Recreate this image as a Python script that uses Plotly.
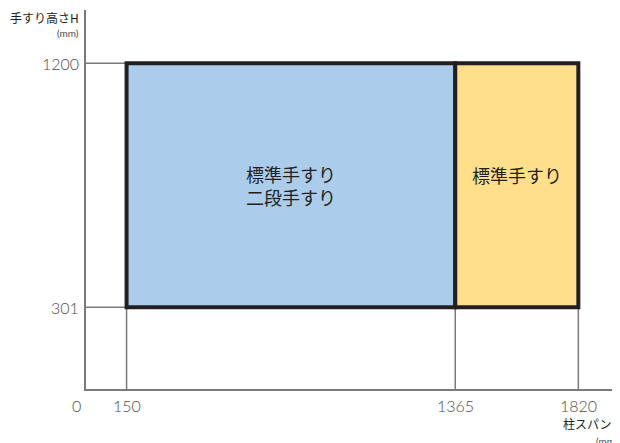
import plotly.graph_objects as go

# data
span_ticks = [0, 150, 1365, 1820]          # 柱スパンL (mm)
height_ticks = [301, 1200]                  # 手すり高さH (mm)
zone_edges = [150, 1365, 1820]
zone_labels = ["標準手すり<br>二段手すり", "標準手すり"]
zone_colors = ["#abcdeb", "#ffdf8a"]

FONT = "Noto Sans CJK JP, Noto Sans, sans-serif"
TICK_FONT = "Lato, Noto Sans, sans-serif"
TICK_COLOR = "#4d4d4d"
GRID_COLOR = "#7a7a7a"

fig = go.Figure()

h_lo, h_hi = height_ticks

# guide lines from the axes to the zone corners
for x in zone_edges:
    fig.add_shape(type="line", x0=x, x1=x, y0=0, y1=h_lo,
                  line=dict(color=GRID_COLOR, width=1.5), layer="below")
for y in height_ticks:
    fig.add_shape(type="line", x0=0, x1=zone_edges[0], y0=y, y1=y,
                  line=dict(color=GRID_COLOR, width=1.5), layer="below")

# zones
for i, (label, color) in enumerate(zip(zone_labels, zone_colors)):
    x0, x1 = zone_edges[i], zone_edges[i + 1]
    fig.add_shape(type="rect", x0=x0, x1=x1, y0=h_lo, y1=h_hi,
                  fillcolor=color, line=dict(color="#231f20", width=4))
    fig.add_annotation(x=(x0 + x1) / 2, y=(h_lo + h_hi) / 2, yshift=0 if i == 0 else 10,
                       text=label, showarrow=False,
                       font=dict(family=FONT, size=18, color="#231f20"))

# tick labels
for x in span_ticks:
    fig.add_annotation(x=x, y=0, yshift=-16, xshift=-10 if x == 0 else 0,
                       text=str(x), showarrow=False,
                       font=dict(family=TICK_FONT, size=16, color=TICK_COLOR, weight=300))
for y in height_ticks:
    fig.add_annotation(x=0, y=y, xshift=-5, xanchor="right",
                       text=str(y), showarrow=False,
                       font=dict(family=TICK_FONT, size=16, color=TICK_COLOR, weight=300))

# axis titles
fig.add_annotation(xref="paper", yref="paper", x=0, xshift=-5, y=0.9815, xanchor="right", yanchor="middle",
                   text="手すり高さH", showarrow=False,
                   font=dict(family=FONT, size=12, color="#231f20"))
fig.add_annotation(xref="paper", yref="paper", x=0, xshift=-5, y=0.938, xanchor="right", yanchor="middle",
                   text="(mm)", showarrow=False,
                   font=dict(family=TICK_FONT, size=10, color=TICK_COLOR))
fig.add_annotation(xref="paper", yref="paper", x=0.889, y=-0.092, xanchor="left", yanchor="middle",
                   text="柱スパンL", showarrow=False,
                   font=dict(family=FONT, size=12, color="#231f20"))
fig.add_annotation(xref="paper", yref="paper", x=0.951, y=-0.137, xanchor="left", yanchor="middle",
                   text="(mm)", showarrow=False,
                   font=dict(family=TICK_FONT, size=10, color=TICK_COLOR))

# page body adds an 8px offset, so margins are shifted accordingly
fig.update_layout(
    width=620, height=443,
    margin=dict(l=78, r=8, t=2, b=62, autoexpand=False),
    paper_bgcolor="white", plot_bgcolor="white",
    showlegend=False,
    xaxis=dict(range=[0, 1974], showgrid=False, zeroline=False, showticklabels=False,
               showline=True, linecolor=GRID_COLOR, linewidth=1.5, fixedrange=True),
    yaxis=dict(range=[0, 1396], showgrid=False, zeroline=False, showticklabels=False,
               showline=True, linecolor=GRID_COLOR, linewidth=1.5, fixedrange=True),
)

fig.write_html("out.html")
